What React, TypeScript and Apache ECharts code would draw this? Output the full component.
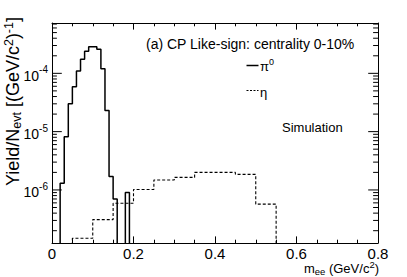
import React, { useEffect, useRef } from 'react';
import * as echarts from 'echarts';

const FONT = '"Liberation Sans", Arial, Helvetica, sans-serif';

// pi0 histogram: bins of width 0.01 starting at 0
const PI0_START = 0;
const PI0_BIN_WIDTH = 0.01;
const pi0Values = [
  0, 0, 1.3e-6, 8.2e-6, 3.0e-5, 5.9e-5, 1.1e-4, 1.75e-4, 2.4e-4, 2.85e-4,
  2.85e-4, 2.6e-4, 1.2e-4, 2.3e-5, 1.7e-6, 7.0e-7, 0, 0, 9.0e-7, 0,
];

// eta histogram: bins of width 0.05 starting at 0
const ETA_START = 0;
const ETA_BIN_WIDTH = 0.05;
const etaValues = [
  0, 1.48e-7, 3.1e-7, 5.9e-7, 1.02e-6, 1.48e-6, 1.64e-6, 2.0e-6, 2.0e-6, 1.85e-6, 5.7e-7, 0,
];

const xTickLabels = ['0', '0.2', '0.4', '0.6', '0.8'];
const yDecades = [1e-7, 1e-6, 1e-5, 1e-4];

const X_MIN = 0;
const X_MAX = 0.8;
const Y_MIN = 1.23e-7;
const Y_MAX = 7.3e-4;
const FLOOR = 1e-9;

function histPoints(values: number[], start: number, width: number) {
  const pts: number[][] = [];
  pts.push([start, FLOOR]);
  values.forEach((v, i) => {
    const x0 = +(start + i * width).toFixed(6);
    const x1 = +(start + (i + 1) * width).toFixed(6);
    const y = v > 0 ? v : FLOOR;
    pts.push([x0, y], [x1, y]);
  });
  pts.push([+(start + values.length * width).toFixed(6), FLOOR]);
  return pts;
}

function yTickData() {
  const out: number[][] = [];
  yDecades.forEach((d) => {
    for (let k = 1; k <= 9; k++) {
      const v = d * k;
      if (v >= Y_MIN && v <= Y_MAX) out.push([X_MIN, v, k === 1 ? 9.8 : 4.9]);
    }
  });
  return out;
}

export default function App() {
  const ref = useRef<HTMLDivElement>(null);
  useEffect(() => {
    const chart = echarts.init(ref.current!, null, { renderer: 'svg' });
    const black = '#000';
    const option: any = {
      animation: false,
      backgroundColor: '#fff',
      textStyle: { fontFamily: FONT, color: black },
      grid: { left: 52, right: 29, top: 23, bottom: 34, containLabel: false },
      xAxis: [
        {
          type: 'value', min: X_MIN, max: X_MAX, interval: 0.2, position: 'bottom',
          axisLine: { onZero: false, lineStyle: { color: black, width: 1 } },
          axisTick: { inside: true, length: 6.6, lineStyle: { color: black } },
          minorTick: { show: true, splitNumber: 4, length: 3.3, lineStyle: { color: black } },
          splitLine: { show: false },
          axisLabel: {
            margin: 3, fontSize: 15, color: black, fontFamily: FONT,
            formatter: (v: number) => xTickLabels[Math.round(v / 0.2)] ?? '',
          },
        },
        {
          type: 'value', min: X_MIN, max: X_MAX, interval: 0.2, position: 'top',
          axisLine: { onZero: false, lineStyle: { color: black, width: 1 } },
          axisTick: { inside: true, length: 6.6, lineStyle: { color: black } },
          minorTick: { show: true, splitNumber: 4, length: 3.3, lineStyle: { color: black } },
          splitLine: { show: false },
          axisLabel: { show: false },
        },
      ],
      yAxis: [
        {
          type: 'log', logBase: 10, min: Y_MIN, max: Y_MAX, position: 'left',
          axisLine: { show: true, onZero: false, lineStyle: { color: black, width: 1 } },
          axisTick: { show: false },
          minorTick: { show: false },
          splitLine: { show: false },
          axisLabel: {
            margin: 4, color: black, fontFamily: FONT,
            showMinLabel: false, showMaxLabel: false,
            formatter: (v: number) => {
              const l = Math.log10(v);
              const e = Math.round(l);
              if (Math.abs(l - e) > 1e-6) return '';
              return `{b|10}{s|${e}}`;
            },
            rich: {
              b: { fontSize: 14, fontFamily: FONT, color: black, padding: [5, 0, 0, 0] },
              s: { fontSize: 10, fontFamily: FONT, color: black, padding: [0, 0, 7, 0] },
            },
          },
        },
        {
          type: 'log', logBase: 10, min: Y_MIN, max: Y_MAX, position: 'right',
          axisLine: { show: true, onZero: false, lineStyle: { color: black, width: 1 } },
          axisTick: { show: false },
          minorTick: { show: false },
          splitLine: { show: false },
          axisLabel: { show: false },
        },
      ],
      series: [
        {
          type: 'line', name: 'pi0', data: histPoints(pi0Values, PI0_START, PI0_BIN_WIDTH),
          symbol: 'none', showSymbol: false, clip: true,
          lineStyle: { color: black, width: 1.5 },
        },
        {
          type: 'line', name: 'eta', data: histPoints(etaValues, ETA_START, ETA_BIN_WIDTH),
          symbol: 'none', showSymbol: false, clip: true,
          lineStyle: { color: black, width: 1.1, type: [3, 2] },
        },
        {
          type: 'custom', silent: true, clip: false,
          data: yTickData(),
          encode: { x: 0, y: 1 },
          renderItem: (params: any, api: any) => {
            const v = api.value(1);
            const len = api.value(2);
            const L = api.coord([X_MIN, v]);
            const R = api.coord([X_MAX, v]);
            return {
              type: 'group',
              children: [
                { type: 'line', shape: { x1: L[0], y1: L[1], x2: L[0] + len, y2: L[1] }, style: { stroke: black, lineWidth: 1 } },
                { type: 'line', shape: { x1: R[0], y1: R[1], x2: R[0] - len, y2: R[1] }, style: { stroke: black, lineWidth: 1 } },
              ],
            };
          },
        },
      ],
      graphic: [
        {
          type: 'text', x: 12.5, y: 17, rotation: Math.PI / 2,
          style: {
            text: '{a|Yield/N}{sub|evt}{a| [(GeV/c}{sup|2}{a|)}{sup|-1}{a|]}',
            align: 'right', verticalAlign: 'middle', fill: black,
            rich: {
              a: { fontSize: 18, fontFamily: FONT, fill: black },
              sub: { fontSize: 12.5, fontFamily: FONT, fill: black, padding: [8, 0, 0, 0] },
              sup: { fontSize: 12.5, fontFamily: FONT, fill: black, padding: [0, 0, 8, 0] },
            },
          },
        },
        {
          type: 'text', x: 379, y: 268,
          style: {
            text: '{a|m}{sub|ee}{a| (GeV/c}{sup|2}{a|)}',
            align: 'right', verticalAlign: 'middle', fill: black,
            rich: {
              a: { fontSize: 13, fontFamily: FONT, fill: black },
              sub: { fontSize: 9.5, fontFamily: FONT, fill: black, padding: [6, 0, 0, 0] },
              sup: { fontSize: 9.5, fontFamily: FONT, fill: black, padding: [0, 0, 7, 0] },
            },
          },
        },
        {
          type: 'text', x: 146, y: 44,
          style: { text: '(a) CP Like-sign: centrality 0-10%', fontSize: 14, fontFamily: FONT, fill: black, align: 'left', verticalAlign: 'middle' },
        },
        {
          type: 'line', shape: { x1: 246.5, y1: 65.5, x2: 258.5, y2: 65.5 },
          style: { stroke: black, lineWidth: 1.5 },
        },
        {
          type: 'text', x: 260, y: 66,
          style: {
            text: '{a|π}{s|0}', align: 'left', verticalAlign: 'middle', fill: black,
            rich: {
              a: { fontSize: 13, fontFamily: FONT, fill: black },
              s: { fontSize: 9, fontFamily: FONT, fill: black, padding: [0, 0, 8, 0] },
            },
          },
        },
        {
          type: 'line', shape: { x1: 246.5, y1: 90.5, x2: 258.5, y2: 90.5 },
          style: { stroke: black, lineWidth: 1.1, lineDash: [2, 1.5] },
        },
        {
          type: 'text', x: 260, y: 92,
          style: { text: 'η', fontSize: 13, fontFamily: FONT, fill: black, align: 'left', verticalAlign: 'middle' },
        },
        {
          type: 'text', x: 282, y: 127,
          style: { text: 'Simulation', fontSize: 13, fontFamily: FONT, fill: black, align: 'left', verticalAlign: 'middle' },
        },
      ],
    };
    chart.setOption(option);
    return () => chart.dispose();
  }, []);
  return (
    <div
      ref={ref}
      style={{ position: 'absolute', left: 0, top: 0, width: 407, height: 277, background: '#fff' }}
    />
  );
}
